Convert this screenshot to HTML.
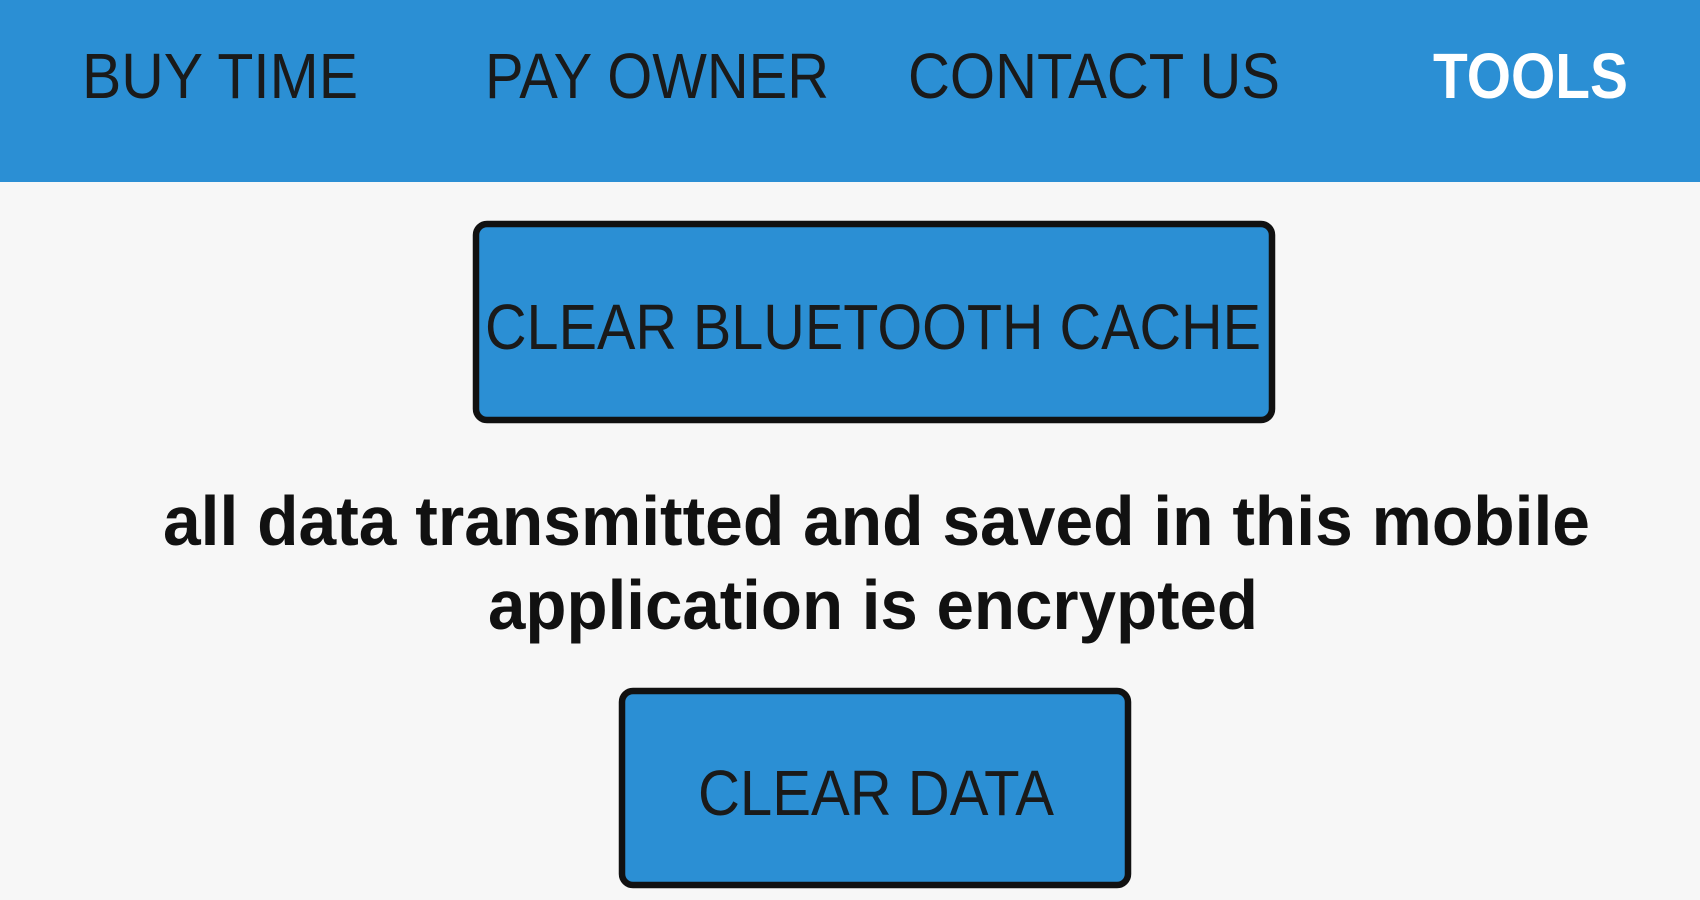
<!DOCTYPE html>
<html><head><meta charset="utf-8"><style>
html,body{margin:0;padding:0;background:#f7f7f7;}
svg{display:block}
</style></head><body>
<svg width="1700" height="900" viewBox="0 0 1700 900" xmlns="http://www.w3.org/2000/svg">
<rect x="0" y="0" width="1700" height="900" fill="#f7f7f7"/>
<rect x="0" y="0" width="1700" height="182" fill="#2b8fd4"/>
<g font-family="Liberation Sans, sans-serif" font-size="64" fill="#1a1a1a">
<text x="82" y="98" textLength="276" lengthAdjust="spacingAndGlyphs">BUY TIME</text>
<text x="485" y="98" textLength="344" lengthAdjust="spacingAndGlyphs">PAY OWNER</text>
<text x="908" y="98" textLength="372" lengthAdjust="spacingAndGlyphs">CONTACT US</text>
<text x="1433" y="98" textLength="195" lengthAdjust="spacingAndGlyphs" fill="#ffffff" font-weight="bold">TOOLS</text>
</g>
<rect x="476" y="224" width="796" height="196" rx="11" fill="#2b8fd4" stroke="#111" stroke-width="6.5"/>
<text x="485" y="349" font-family="Liberation Sans, sans-serif" font-size="64" fill="#1a1a1a" textLength="776" lengthAdjust="spacingAndGlyphs">CLEAR BLUETOOTH CACHE</text>
<g font-family="Liberation Sans, sans-serif" font-size="70" font-weight="bold" fill="#111">
<text x="163" y="545" textLength="1427" lengthAdjust="spacingAndGlyphs">all data transmitted and saved in this mobile</text>
<text x="488" y="629" textLength="770" lengthAdjust="spacingAndGlyphs">application is encrypted</text>
</g>
<rect x="622" y="691" width="506" height="194" rx="11" fill="#2b8fd4" stroke="#111" stroke-width="6.5"/>
<text x="698" y="815" font-family="Liberation Sans, sans-serif" font-size="64" fill="#1a1a1a" textLength="356" lengthAdjust="spacingAndGlyphs">CLEAR DATA</text>
</svg>
</body></html>
